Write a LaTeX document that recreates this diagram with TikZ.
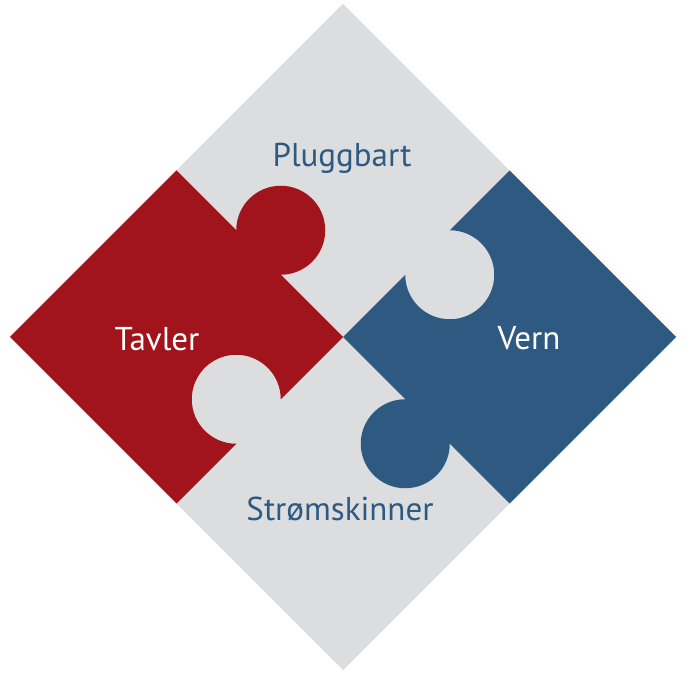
\documentclass[tikz,border=0pt]{standalone}
\usepackage{fontspec}
\setmainfont{PT Sans}
\definecolor{pgray}{HTML}{DCDDDF}
\definecolor{pred}{HTML}{A2141B}
\definecolor{pblue}{HTML}{2E5A82}
\tikzset{
  darklabel/.style={font=\fontsize{33}{36}\selectfont, text=pblue, anchor=base, inner sep=0pt},
  lightlabel/.style={font=\fontsize{33}{36}\selectfont, text=white, anchor=base, inner sep=0pt}
}
\begin{document}
\begin{tikzpicture}[x=1pt,y=1pt]
\useasboundingbox (0,0) rectangle (690,677);
% whole diamond (gray pieces)
\fill[pgray] (10,340) -- (343,673) -- (676,340) -- (343,7) -- cycle;
% red piece
\fill[pred] (10,340) -- (176.5,506.5) -- (236.25,446.75)
  arc[start angle=180, end angle=-90, radius=44.5]
  -- (343,340) -- (280.75,277.75)
  arc[start angle=0, end angle=270, radius=44.5]
  -- (176.5,173.5) -- cycle;
% blue piece
\fill[pblue] (343,340) -- (405.25,402.25)
  arc[start angle=180, end angle=450, radius=44.5]
  -- (509.5,506.5) -- (676,340) -- (509.5,173.5) -- (449.75,233.25)
  arc[start angle=0, end angle=-270, radius=44.5]
  -- cycle;
\node[darklabel] (plug) at (342,510.3) {Pluggbart};
\node[darklabel] (strom) at (340,156) {Strømskinner};
\node[lightlabel] (tavler) at (157,326) {Tavler};
\node[lightlabel] (vern) at (529,327) {Vern};
\end{tikzpicture}
\end{document}
